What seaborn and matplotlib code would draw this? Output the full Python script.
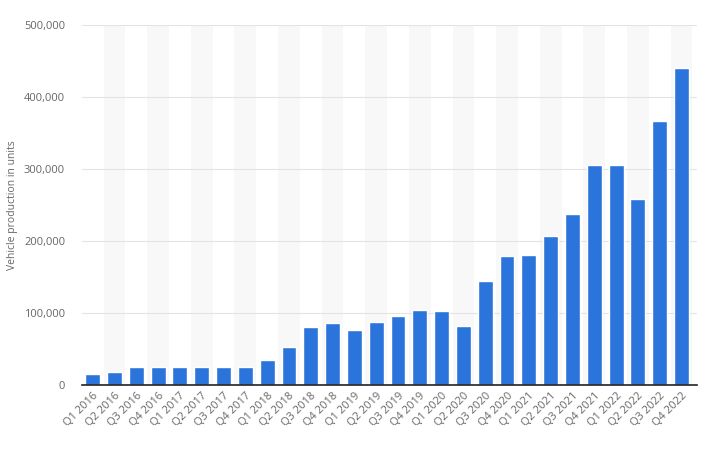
import numpy as np
import pandas as pd
import matplotlib
matplotlib.use('Agg')
import matplotlib.pyplot as plt
import matplotlib.ticker as mticker
import seaborn as sns

quarters = ['Q1 2016', 'Q2 2016', 'Q3 2016', 'Q4 2016',
            'Q1 2017', 'Q2 2017', 'Q3 2017', 'Q4 2017',
            'Q1 2018', 'Q2 2018', 'Q3 2018', 'Q4 2018',
            'Q1 2019', 'Q2 2019', 'Q3 2019', 'Q4 2019',
            'Q1 2020', 'Q2 2020', 'Q3 2020', 'Q4 2020',
            'Q1 2021', 'Q2 2021', 'Q3 2021', 'Q4 2021',
            'Q1 2022', 'Q2 2022', 'Q3 2022', 'Q4 2022']
production = [15510, 18345, 25185, 24882,
              25418, 25708, 25336, 24565,
              34494, 53339, 80142, 86555,
              77100, 87048, 96155, 104891,
              102672, 82272, 145036, 179757,
              180338, 206421, 237823, 305840,
              305407, 258580, 365923, 439701]
yticks = [0, 100000, 200000, 300000, 400000, 500000]

df = pd.DataFrame({'quarter': quarters, 'units': production})

sns.set_style('white')
plt.rcParams['font.family'] = ['Open Sans', 'DejaVu Sans']

fig = plt.figure(figsize=(7.11, 4.59), dpi=100)
ax = fig.add_axes([0.115, 0.161, 0.865, 0.785])

# alternating column bands
for i in range(1, len(quarters), 2):
    ax.axvspan(i - 0.5, i + 0.5, color='#f8f8f8', zorder=0, lw=0)

sns.barplot(data=df, x='quarter', y='units', color='#2b74dc',
            saturation=1, width=0.68, ax=ax, zorder=3)

ax.set_xlim(-0.5, len(quarters) - 0.3)
ax.set_ylim(0, 500000)
ax.set_yticks(yticks)
ax.yaxis.set_major_formatter(mticker.FuncFormatter(lambda v, p: f'{int(v):,}'))
ax.grid(axis='y', color='#e3e3e3', lw=0.8, zorder=1)
ax.set_axisbelow(True)

for s in ['top', 'right', 'left']:
    ax.spines[s].set_visible(False)
ax.spines['bottom'].set_color('#222222')
ax.spines['bottom'].set_linewidth(1.2)
ax.spines['bottom'].set_zorder(4)

ax.tick_params(axis='both', length=0, colors='#666666', labelsize=8)
ax.tick_params(axis='y', pad=12)
ax.set_xticks(range(len(quarters)))
ax.set_xticklabels(quarters, rotation=45, ha='right', rotation_mode='anchor')
ax.set_xlabel('')
ax.set_ylabel('Vehicle production in units', color='#666666', fontsize=7.5)
ax.yaxis.set_label_coords(-0.103, 0.5)

fig.savefig('out.png', dpi=100)
